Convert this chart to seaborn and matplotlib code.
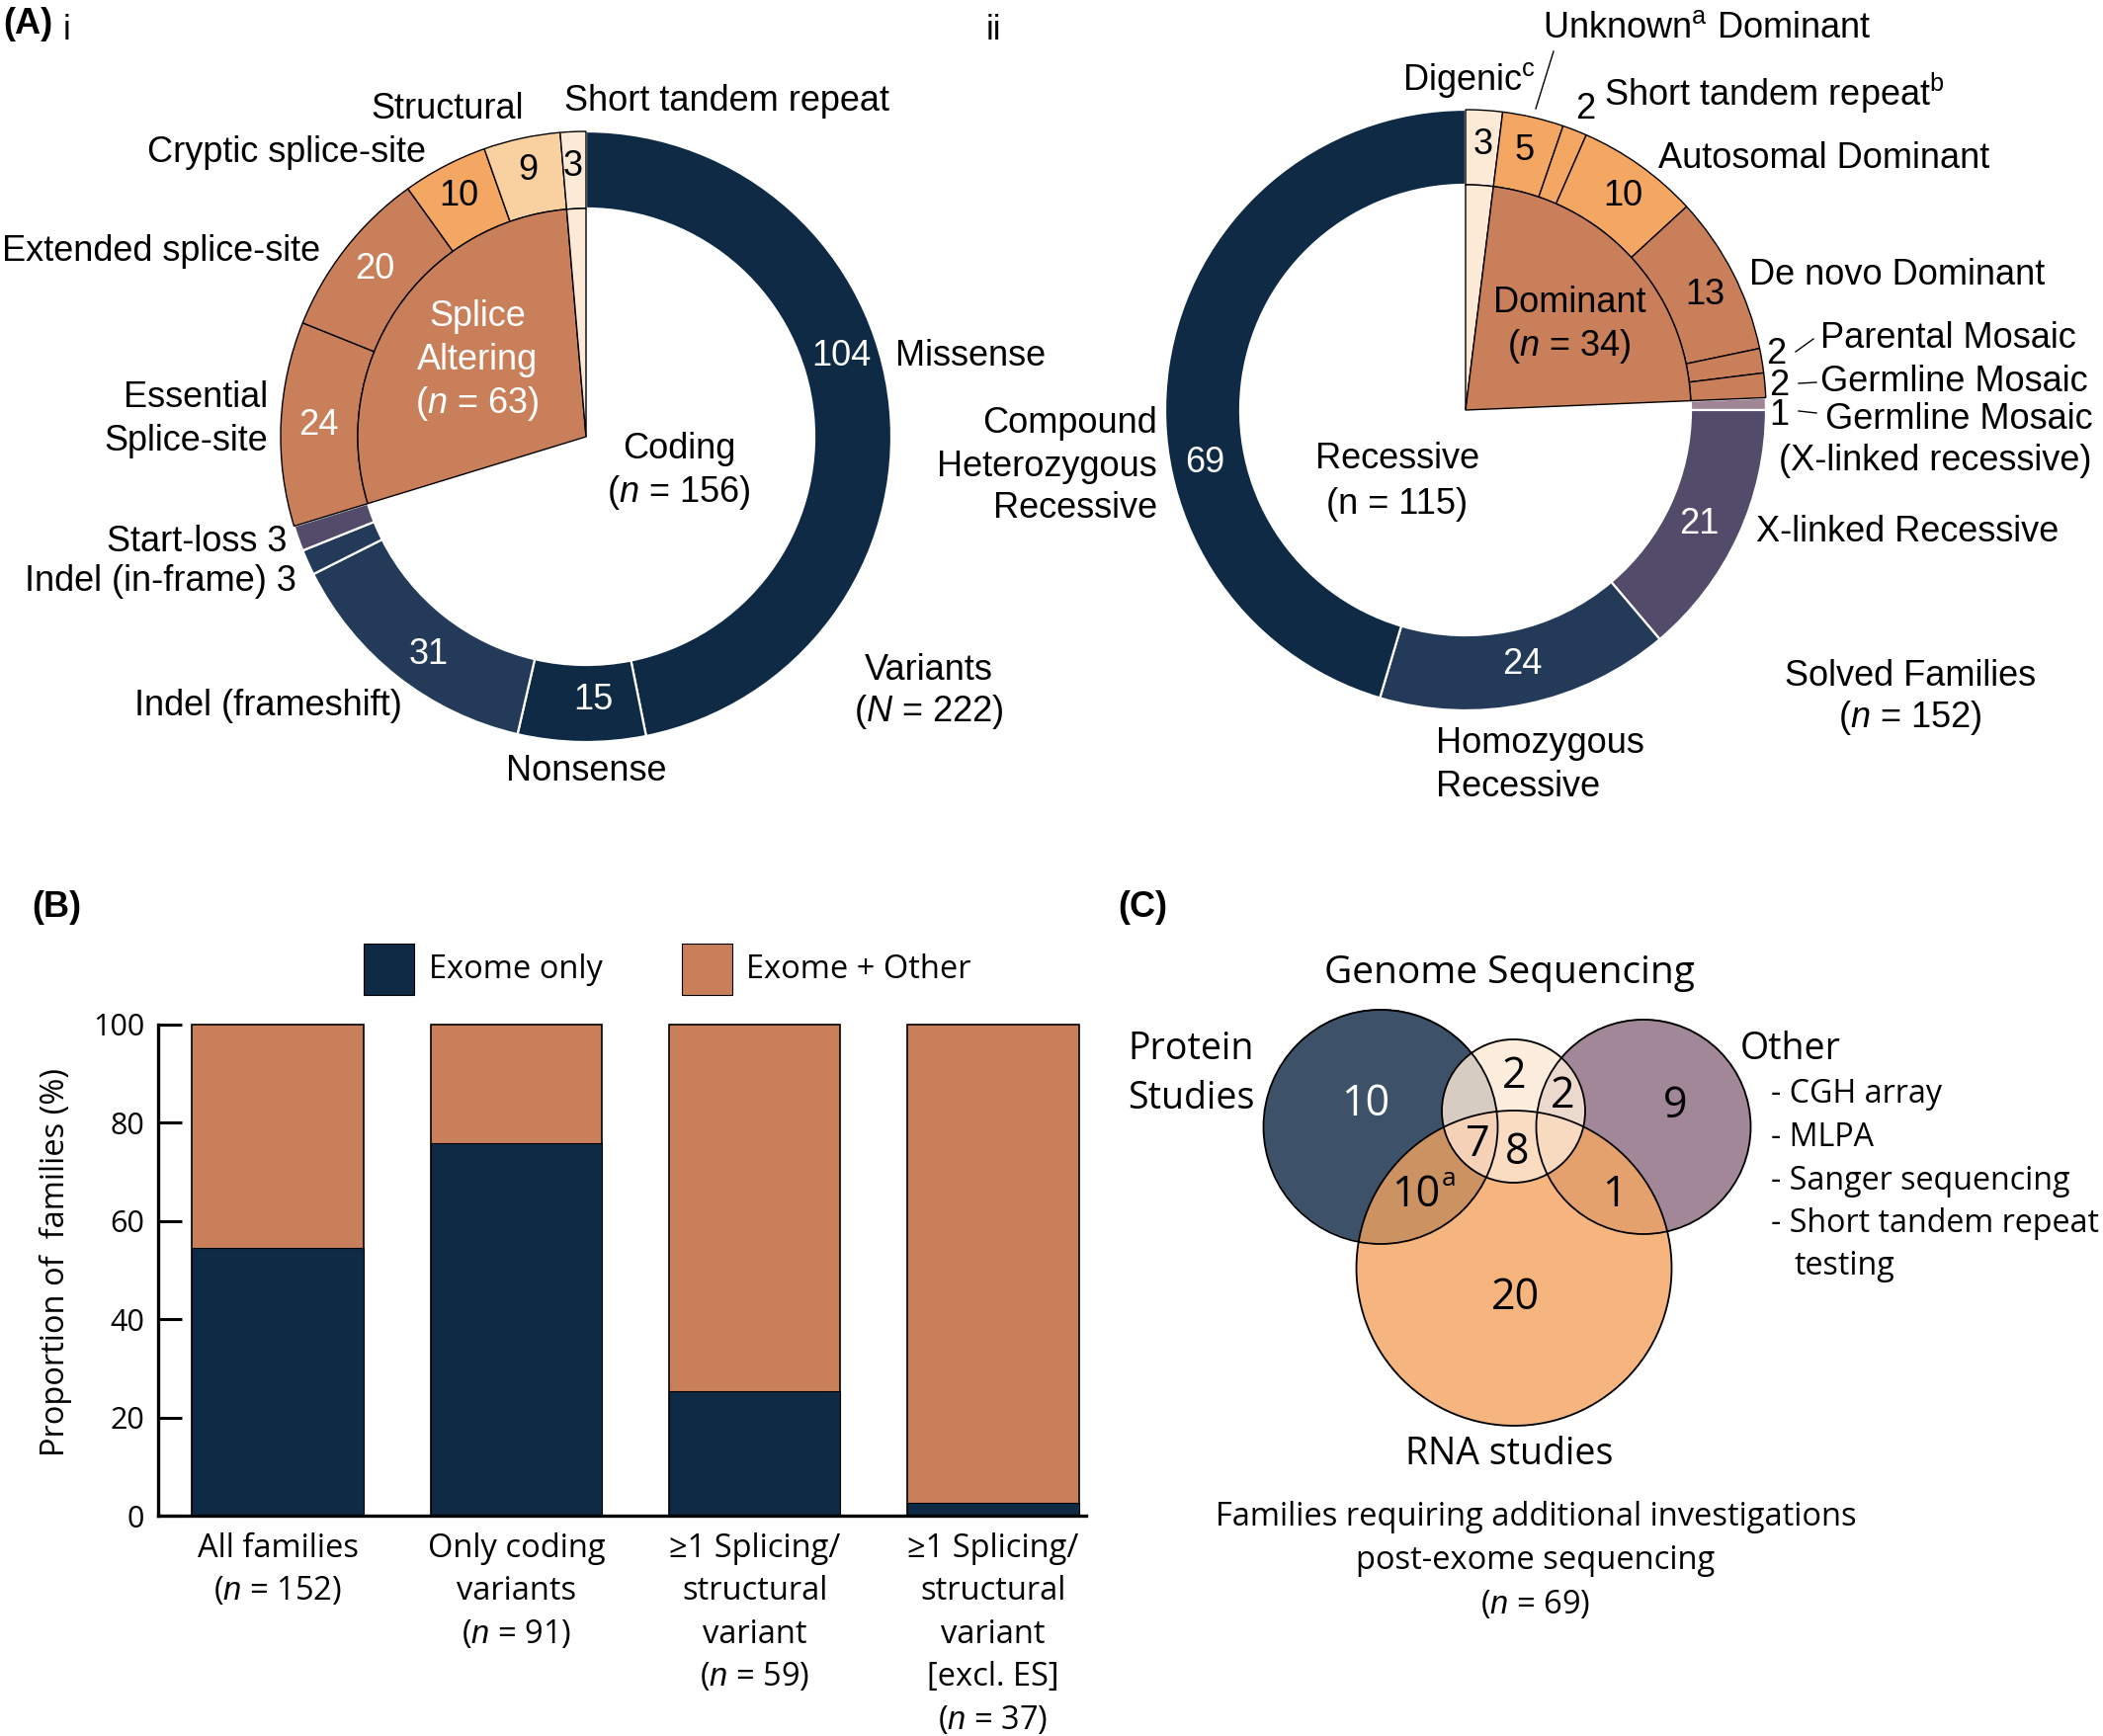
import numpy as np
import pandas as pd
import matplotlib
matplotlib.use("Agg")
import matplotlib.pyplot as plt
import seaborn as sns
from matplotlib.patches import Circle, Rectangle
from matplotlib.colors import to_rgba

plt.rcParams["mathtext.fontset"] = "custom"
plt.rcParams["mathtext.rm"] = "Liberation Sans"
plt.rcParams["mathtext.it"] = "Liberation Sans:italic"
plt.rcParams["mathtext.bf"] = "Liberation Sans:bold"

# ---------------- data ----------------
# Panel A(i): variants (N = 222), clockwise from 12 o'clock
variant_types = ["Missense", "Nonsense", "Indel (frameshift)", "Indel (in-frame)", "Start-loss",
                 "Essential splice-site", "Extended splice-site", "Cryptic splice-site",
                 "Structural", "Short tandem repeat"]
variant_counts = [104, 15, 31, 3, 3, 24, 20, 10, 9, 3]
variant_groups = ["Coding", "Splice Altering", "Short tandem repeat"]
variant_group_counts = [156, 63, 3]

# Panel A(ii): solved families (n = 152), clockwise from 12 o'clock
inheritance_types = ["Digenic", "Unknown Dominant", "Short tandem repeat", "Autosomal Dominant",
                     "De novo Dominant", "Parental Mosaic", "Germline Mosaic",
                     "Germline Mosaic (X-linked recessive)", "X-linked Recessive",
                     "Homozygous Recessive", "Compound Heterozygous Recessive"]
inheritance_counts = [3, 5, 2, 10, 13, 2, 2, 1, 21, 24, 69]
inheritance_groups = ["Digenic", "Dominant", "Recessive"]
inheritance_group_counts = [3, 34, 115]

# Panel B
bar_categories = ["All families", "Only coding variants", "Splicing/structural", "Splicing/structural excl. ES"]
bar_ticklabels = ["All families\n($\\mathit{n}$ = 152)",
                  "Only coding\nvariants\n($\\mathit{n}$ = 91)",
                  "\u22651 Splicing/\nstructural\nvariant\n($\\mathit{n}$ = 59)",
                  "\u22651 Splicing/\nstructural\nvariant\n[excl. ES]\n($\\mathit{n}$ = 37)"]
exome_only_pct = [54.6, 75.8, 25.4, 2.7]
total_pct = [100, 100, 100, 100]
bar_yticks = [0, 20, 40, 60, 80, 100]

# Panel C: Venn counts (n = 69)
venn_sets = ["Protein Studies", "Genome Sequencing", "Other", "RNA studies"]
venn_region_names = ["Protein", "Genome", "Genome+Other", "Other", "Protein+Genome+RNA",
                     "Genome+RNA", "Protein+RNA", "Other+RNA", "RNA"]
venn_region_counts = ["10", "2", "2", "9", "7", "8", "10", "1", "20"]
other_methods = ["- CGH array", "- MLPA", "- Sanger sequencing", "- Short tandem repeat", "testing"]

# ---------------- style ----------------
W, H = 2128, 1757
NAVY = "#0E2A45"
NAVY2 = "#233B58"
PURPLE = "#524B69"
MAUVE = "#A08595"
TERRA = "#C97F59"
LORANGE = "#F4A663"
PEACH = "#F9D1A0"
CREAM = "#FDEAD6"
FA = "Liberation Sans"
FB = "Open Sans"

fig = plt.figure(figsize=(W / 100, H / 100), dpi=100)

# ---------------- Panel B (seaborn bars) ----------------
axb = fig.add_axes([160 / W, 1 - 1534 / H, (1099 - 160) / W, 497 / H])
dfb = pd.DataFrame({"category": bar_categories, "total": total_pct, "exome": exome_only_pct})
sns.barplot(data=dfb, x="category", y="total", color=TERRA, saturation=1, width=0.72,
            edgecolor="black", linewidth=1.2, errorbar=None, ax=axb)
sns.barplot(data=dfb, x="category", y="exome", color=NAVY, saturation=1, width=0.72,
            edgecolor="black", linewidth=0.8, errorbar=None, ax=axb)
for p in axb.patches:
    p.set_clip_on(False)
axb.set_xlim(-0.502, 3.39)
axb.set_ylim(0, 100)
axb.set_xlabel("")
axb.set_ylabel("")
axb.set_yticks(bar_yticks)
axb.set_yticklabels([str(v) for v in bar_yticks], fontsize=22, family=FB)
axb.set_xticks(range(len(bar_categories)))
axb.set_xticklabels(bar_ticklabels, fontsize=23.5, family=FB, linespacing=1.42, va="top")
axb.tick_params(axis="x", length=0, pad=12)
axb.tick_params(axis="y", direction="in", length=17, width=2.2, pad=10)
for s in ["top", "right"]:
    axb.spines[s].set_visible(False)
for s in ["left", "bottom"]:
    axb.spines[s].set_linewidth(2.4)
axb.set_facecolor("none")
fig.text(56 / W, 1 - 1277 / H, "Proportion of  families (%)", rotation=90, ha="center",
         va="center", fontsize=23.5, family=FB)

# ---------------- overlay axes (pixel coords) ----------------
ax = fig.add_axes([0, 0, 1, 1], zorder=5)
ax.set_facecolor("none")


def T(x, y, s, size=26, ha="center", va="center", color="black", family=FA, **kw):
    ax.text(x, H - y, s, fontsize=size, ha=ha, va=va, color=color, family=family, **kw)


def donut(cx, cy, R, rin, outer_vals, outer_cols, outer_edges, inner_vals, inner_cols, inner_edges):
    wo, _ = ax.pie(outer_vals, radius=R, center=(cx, H - cy), startangle=90, counterclock=False,
                   colors=outer_cols, wedgeprops=dict(width=R - rin, linewidth=1.0))
    for w, ec in zip(wo, outer_edges):
        w.set_edgecolor(ec)
        if ec == "white":
            w.set_linewidth(1.6)
            w.set_zorder(1)
        else:
            w.set_zorder(2)
    wi, _ = ax.pie(inner_vals, radius=rin, center=(cx, H - cy), startangle=90, counterclock=False,
                   colors=inner_cols, wedgeprops=dict(linewidth=1.0))
    for w, ec in zip(wi, inner_edges):
        w.set_edgecolor(ec)
        w.set_zorder(3)
        if ec == "none":
            w.set_linewidth(0)


# ----- A(i) -----
donut(593, 442, 309, 231, variant_counts,
      [NAVY, NAVY, NAVY2, NAVY2, PURPLE, TERRA, TERRA, LORANGE, PEACH, CREAM],
      ["white"] * 5 + ["black"] * 5,
      variant_group_counts, ["none", TERRA, CREAM], ["none", "black", "black"])

# ----- A(ii) -----
donut(1483, 415, 304, 228, inheritance_counts,
      [CREAM, LORANGE, LORANGE, LORANGE, TERRA, TERRA, TERRA, MAUVE, PURPLE, NAVY2, NAVY],
      ["black"] * 7 + ["white"] * 4,
      inheritance_group_counts, [CREAM, TERRA, "none"], ["black", "black", "none"])

NI = "$\\mathit{n}$"

# panel letters
T(3, 24, "(A)", size=26, ha="left", weight="bold")
T(64, 31, "i", size=25, ha="left")
T(998, 31, "ii", size=25, ha="left")
T(32, 919, "(B)", size=26, ha="left", weight="bold")
T(1131, 919, "(C)", size=26, ha="left", weight="bold")

# A(i) labels
T(571, 103, "Short tandem repeat", ha="left")
T(453, 110, "Structural")
T(290, 154, "Cryptic splice-site")
T(2, 254, "Extended splice-site", ha="left")
T(271, 403, "Essential", ha="right")
T(271, 446, "Splice-site", ha="right")
T(290, 549, "Start-loss 3", ha="right")
T(300, 589, "Indel (in-frame) 3", ha="right")
T(271, 714, "Indel (frameshift)")
T(593, 780, "Nonsense")
T(906, 360, "Missense", ha="left")
T(851, 360, str(variant_counts[0]), color="white")
T(687, 455, "Coding")
T(687, 499, "(" + NI + " = 156)")
T(483, 321, "Splice", color="white")
T(483, 365, "Altering", color="white")
T(483, 409, "(" + NI + " = 63)", color="white")
T(940, 679, "Variants")
T(940, 721, "($\\mathit{N}$ = 222)")
T(379, 272, str(variant_counts[6]), color="white")
T(322, 431, str(variant_counts[5]), color="white")
T(464, 199, str(variant_counts[7]))
T(534, 172, str(variant_counts[8]))
T(580, 168, str(variant_counts[9]))
T(434, 662, str(variant_counts[2]), color="white")
T(600, 709, str(variant_counts[1]), color="white")

# A(ii) labels
T(1561, 29, "Unknown$^{\\mathrm{a}}$ Dominant", ha="left")
T(1419, 81, "Digenic$^{\\mathrm{c}}$", ha="left")
ax.plot([1554, 1572], [H - 110, H - 52], color="black", lw=1.0)
T(1604, 110, str(inheritance_counts[2]))
T(1623, 94, "Short tandem repeat$^{\\mathrm{b}}$", ha="left")
T(1678, 160, "Autosomal Dominant", ha="left")
T(1770, 279, "De novo Dominant", ha="left")
T(1797, 358, str(inheritance_counts[5]))
ax.plot([1817, 1835], [H - 356, H - 343], color="black", lw=1.0)
T(1842, 343, "Parental Mosaic", ha="left")
T(1800, 390, str(inheritance_counts[6]))
ax.plot([1820, 1838], [H - 388, H - 387], color="black", lw=1.0)
T(1842, 386, "Germline Mosaic", ha="left")
T(1800, 421, str(inheritance_counts[7]))
ax.plot([1820, 1838], [H - 416, H - 418], color="black", lw=1.0)
T(1847, 424, "Germline Mosaic", ha="left")
T(1800, 467, "(X-linked recessive)", ha="left")
T(1777, 539, "X-linked Recessive", ha="left")
T(1933, 684, "Solved Families")
T(1933, 726, "(" + NI + " = 152)")
T(1453, 753, "Homozygous", ha="left")
T(1453, 796, "Recessive", ha="left")
T(1171, 429, "Compound", ha="right")
T(1171, 472, "Heterozygous", ha="right")
T(1171, 515, "Recessive", ha="right")
T(1414, 465, "Recessive")
T(1414, 510, "(n = 115)")
T(1588, 306, "Dominant")
T(1588, 350, "(" + NI + " = 34)")
T(1501, 146, str(inheritance_counts[0]))
T(1543, 152, str(inheritance_counts[1]))
T(1642, 199, str(inheritance_counts[3]))
T(1725, 298, str(inheritance_counts[4]))
T(1719, 531, str(inheritance_counts[8]), color="white")
T(1540, 672, str(inheritance_counts[9]), color="white")
T(1219, 468, str(inheritance_counts[10]), color="white")

# ----- Panel B legend -----
ax.add_patch(Rectangle((368, H - 1007), 51, 52, facecolor=NAVY, edgecolor="black", lw=0.8))
T(434, 981, "Exome only", size=23.5, ha="left", family=FB)
ax.add_patch(Rectangle((690, H - 1007), 51, 52, facecolor=TERRA, edgecolor="black", lw=0.8))
T(755, 981, "Exome + Other", size=23.5, ha="left", family=FB)

# ----- Panel C: Venn -----
circ = {"P": (1397, 1140.5, 118.5), "G": (1531.5, 1124.5, 72.5),
        "O": (1663, 1140.5, 108.5), "R": (1532, 1283.5, 159.5)}
region_cols = {1: "#3D5369", 2: "#FDEEDC", 4: "#A18797", 8: "#F6B57F",
               3: "#D7CCC2", 6: "#EDD9CE", 9: "#CC9262", 12: "#E4A16D",
               10: "#F9DCC2", 11: "#F4D2B7", 14: "#F8DAC1", 5: "#888888",
               7: "#DDCCC0", 13: "#D09870", 15: "#F0D0B5"}
xs = np.arange(1265, 1785, 0.5)
ys = np.arange(1015, 1448, 0.5)
XX, YY = np.meshgrid(xs, ys)
code = np.zeros(XX.shape, dtype=int)
for bit, k in zip([1, 2, 4, 8], ["P", "G", "O", "R"]):
    cx, cy, r = circ[k]
    code += bit * (((XX - cx) ** 2 + (YY - cy) ** 2) <= r ** 2)
img = np.zeros(XX.shape + (4,))
for c, col in region_cols.items():
    img[code == c] = to_rgba(col)
ax.imshow(img, extent=(xs[0], xs[-1], H - ys[-1], H - ys[0]), origin="upper",
          aspect="auto", interpolation="antialiased", zorder=1)
for k in ["P", "G", "O", "R"]:
    cx, cy, r = circ[k]
    ax.add_patch(Circle((cx, H - cy), r, fill=False, edgecolor="black", lw=1.3, zorder=2))

VS = 31
T(1382, 1118, venn_region_counts[0], size=VS, family=FB, color="white")
T(1532, 1090, venn_region_counts[1], size=VS, family=FB)
T(1581, 1110, venn_region_counts[2], size=VS, family=FB)
T(1695, 1120, venn_region_counts[3], size=VS, family=FB)
T(1495, 1159, venn_region_counts[4], size=VS, family=FB)
T(1535, 1167, venn_region_counts[5], size=VS, family=FB)
T(1433, 1210, venn_region_counts[6], size=VS, family=FB)
T(1466, 1194, "a", size=19, family=FB)
T(1633, 1210, venn_region_counts[7], size=VS, family=FB)
T(1533, 1314, venn_region_counts[8], size=VS, family=FB)

T(1527, 985, "Genome Sequencing", size=28, family=FB)
T(1141, 1062, "Protein", size=27, ha="left", family=FB)
T(1141, 1112, "Studies", size=27, ha="left", family=FB)
T(1761, 1062, "Other", size=27, ha="left", family=FB)
for i, m in enumerate(other_methods):
    xm = 1792 if m.startswith("-") else 1815
    T(xm, 1108 + 43.5 * i, m, size=23.2, ha="left", family=FB)
T(1527, 1472, "RNA studies", size=27, family=FB)
T(1554, 1536, "Families requiring additional investigations", size=23.5, family=FB)
T(1554, 1580, "post-exome sequencing", size=23.5, family=FB)
T(1554, 1624, "(" + NI + " = 69)", size=23.5, family=FB)

ax.set_xlim(0, W)
ax.set_ylim(0, H)
ax.set_aspect("auto")
ax.axis("off")

fig.savefig("out.png", dpi=100)
